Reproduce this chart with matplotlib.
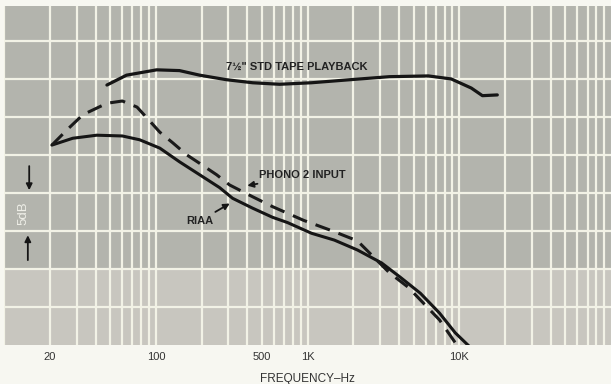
import matplotlib.pyplot as plt
import numpy as np

# =========================
# DATA
# =========================
tape_freq = [47.5, 64, 101, 143, 194, 292, 434, 653, 1060, 1900, 3460, 6250, 8850,
             12000, 14200, 17800]
tape_db = [14.2, 15.5, 16.2, 16.1, 15.5, 14.9, 14.5, 14.3, 14.5, 14.9, 15.3, 15.4, 15.0,
           13.8, 12.8, 12.9]

phono_freq = [20.6, 25.9, 33, 47.5, 60, 75, 87, 106, 129, 160, 194, 251, 306, 434, 587,
              940, 1415, 2130, 3460, 4600, 7400, 9400]
phono_db = [6.3, 8.3, 10.3, 11.8, 12.1, 11.3, 9.9, 8.0, 6.6, 5.0, 3.9, 2.4, 1.05, -0.5, -1.8,
            -3.6, -4.9, -6.3, -10.5, -12.4, -16.7, -19.7]

riaa_freq = [20.6, 28.3, 40.7, 60, 78, 106, 143, 194, 263, 320, 434, 587, 738, 1060, 1500,
             2130, 3070, 4090, 5540, 7400, 9400, 11800]
riaa_db = [6.3, 7.2, 7.6, 7.5, 7.0, 5.9, 4.1, 2.4, 0.7, -0.7, -2.0, -3.2, -3.9, -5.3, -6.2,
           -7.5, -9.2, -11.1, -13.2, -15.8, -18.4, -20.3]

tick_freq = [20, 100, 500, 1000, 10000]
tick_labels = ["20", "100", "500", "1K", "10K"]

# =========================
# FIGURE
# =========================
plt.rcParams['font.family'] = ['Liberation Sans', 'DejaVu Sans']

fig = plt.figure(figsize=(6.11, 3.84), dpi=100)
fig.patch.set_facecolor('#f7f7f1')
ax = fig.add_axes([0.007, 0.1016, 0.993, 0.8828])
ax.set_facecolor('#b3b4ad')
ax.set_xscale('log')
ax.set_xlim(10, 100000)
ax.set_ylim(-20, 24.6)

# lighter lower part of the paper
ax.axhspan(-20, -10, color='#c8c6bf', zorder=0)

# graph paper grid
grid_col = '#f2f2e6'
for dec in [10, 100, 1000, 10000]:
    for m in range(1, 10):
        ax.axvline(dec * m, color=grid_col, lw=1.6, zorder=1)
for db in range(-15, 25, 5):
    ax.axhline(db, color=grid_col, lw=1.6, zorder=1)

for s in ax.spines.values():
    s.set_visible(False)
ax.set_yticks([])
ax.set_xticks(tick_freq)
ax.set_xticklabels(tick_labels, fontsize=8, color='#333333')
ax.minorticks_off()
ax.tick_params(axis='x', length=0, pad=5)
ax.set_xlabel("FREQUENCY\u2013Hz", fontsize=8.5, color='#333333', labelpad=8)

# curves
ax.plot(tape_freq, tape_db, color='#151515', lw=2.3, solid_capstyle='round',
        solid_joinstyle='round', zorder=3)
ax.plot(riaa_freq, riaa_db, color='#151515', lw=2.2, solid_capstyle='round',
        solid_joinstyle='round', zorder=3)
ax.plot(phono_freq, phono_db, color='#1a1a1a', lw=2.2, dashes=(5, 3), zorder=3)

# labels
ax.text(845, 16.6, '7\u00bd" STD TAPE PLAYBACK', fontsize=8, fontweight='bold',
        color='#222222', ha='center', va='center', zorder=4)
arrow = dict(arrowstyle='-|>', color='#151515', lw=1.3, mutation_scale=9)
ax.annotate("PHONO 2 INPUT", xy=(384, 0.9), xytext=(480, 2.3), fontsize=8, fontweight='bold',
            color='#222222', ha='left', va='center', arrowprops=arrow, zorder=4)
ax.annotate("RIAA", xy=(318, -1.2), xytext=(194, -3.7), fontsize=8, fontweight='bold',
            color='#222222', ha='center', va='center', arrowprops=arrow, zorder=4)

# 5 dB marker
ax.annotate("", xy=(14.6, 0.0), xytext=(14.6, 3.9), arrowprops=arrow, zorder=4)
ax.annotate("", xy=(14.3, -5.2), xytext=(14.3, -9.2), arrowprops=arrow, zorder=4)
ax.text(13.4, -2.6, "5dB", rotation=90, fontsize=9.5, color='#efefe8',
        ha='center', va='center', zorder=4)

fig.savefig("out.png", dpi=100, facecolor=fig.get_facecolor())
